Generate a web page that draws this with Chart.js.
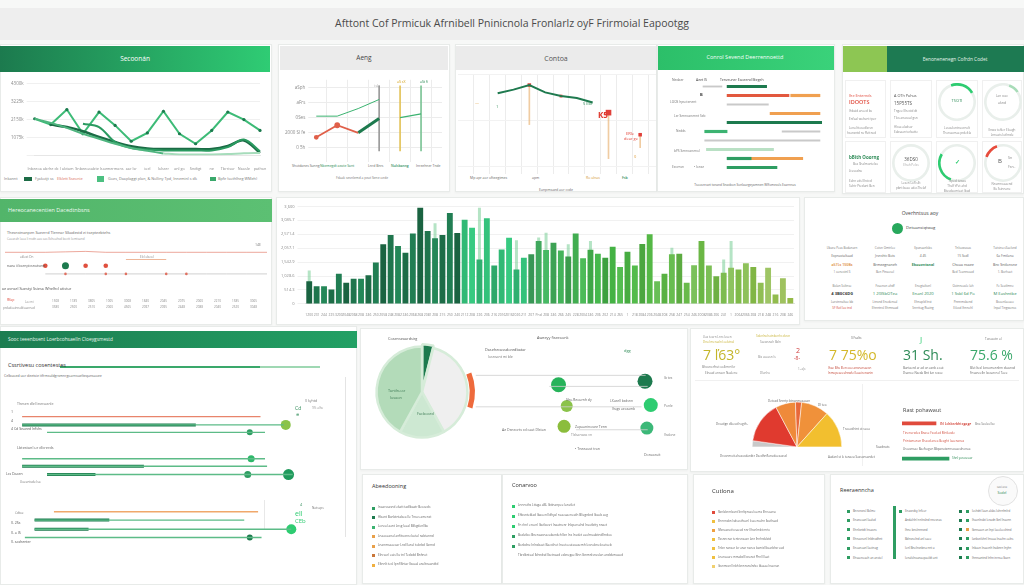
<!DOCTYPE html>
<html>
<head>
<meta charset="utf-8">
<title>Dashboard</title>
<script src="https://cdn.jsdelivr.net/npm/chart.js@4.4.1/dist/chart.umd.min.js"></script>
<style>
  body { margin:0; width:1024px; height:585px; overflow:hidden; position:relative; background:#f7f8f7;
         font-family:'Open Sans','Liberation Sans',sans-serif; }
  .p { position:absolute; background:#fff; border:1px solid #e8ebe9; box-sizing:border-box; box-shadow:0 1px 2px rgba(0,0,0,.04); }
  .b { position:absolute; }
  .t { position:absolute; white-space:nowrap; line-height:1; transform:translateY(-50%); }
  .c { position:absolute; }
</style>
</head>
<body>
<!-- title bar -->
<div class="b" style="left:0;top:8px;width:1024px;height:32px;background:#eeeeee"></div>

<!-- row 1 -->
<div class="p" style="left:0;top:44px;width:272px;height:148px"></div>
<div class="b" style="left:0;top:46px;width:270px;height:26px;background:linear-gradient(90deg,#1c7a4e,#2fcc74)"></div>
<div class="p" style="left:278px;top:44px;width:172px;height:148px"></div>
<div class="b" style="left:280px;top:46px;width:168px;height:24px;background:#ebebeb"></div>
<div class="p" style="left:455px;top:44px;width:202px;height:148px"></div>
<div class="b" style="left:456px;top:46px;width:200px;height:24px;background:#ebebeb"></div>
<div class="p" style="left:657px;top:44px;width:178px;height:148px"></div>
<div class="b" style="left:658px;top:46px;width:176px;height:24px;background:linear-gradient(90deg,#2cbf69,#3ad27a)"></div>
<div class="p" style="left:842px;top:44px;width:182px;height:150px"></div>
<div class="b" style="left:843px;top:46px;width:44px;height:26px;background:#8dc653"></div>
<div class="b" style="left:887px;top:46px;width:137px;height:26px;background:#1d7a52"></div>
<div class="p" style="left:845px;top:80px;width:41px;height:58px;box-shadow:none;border-color:#f0f0f0"></div>
<div class="p" style="left:890px;top:80px;width:42px;height:58px;box-shadow:none;border-color:#f0f0f0"></div>
<div class="p" style="left:936px;top:80px;width:42px;height:58px;box-shadow:none;border-color:#f0f0f0"></div>
<div class="p" style="left:982px;top:80px;width:40px;height:58px;box-shadow:none;border-color:#f0f0f0"></div>
<div class="p" style="left:845px;top:141px;width:41px;height:52px;box-shadow:none;border-color:#f0f0f0"></div>
<div class="p" style="left:890px;top:141px;width:42px;height:52px;box-shadow:none;border-color:#f0f0f0"></div>
<div class="p" style="left:936px;top:141px;width:42px;height:52px;box-shadow:none;border-color:#f0f0f0"></div>
<div class="p" style="left:982px;top:141px;width:40px;height:52px;box-shadow:none;border-color:#f0f0f0"></div>

<!-- row 2 -->
<div class="p" style="left:0;top:197px;width:272px;height:128px"></div>
<div class="b" style="left:0;top:199px;width:272px;height:23px;background:linear-gradient(90deg,#52b56a,#5cc073)"></div>
<div class="p" style="left:276px;top:197px;width:524px;height:128px"></div>
<div class="p" style="left:804px;top:197px;width:220px;height:124px"></div>

<!-- row 3 -->
<div class="p" style="left:0;top:326px;width:357px;height:259px"></div>
<div class="b" style="left:0;top:331px;width:357px;height:17px;background:linear-gradient(90deg,#1d7d51,#22a064)"></div>
<div class="b" style="left:60px;top:366px;width:200px;height:1.5px;background:#3aa86b"></div>
<div class="b" style="left:260px;top:366px;width:60px;height:1.5px;background:#9fd8b3"></div>
<div class="b" style="left:345px;top:377px;width:1px;height:160px;background:#e4e4e4"></div>
<div class="b" style="left:264px;top:500px;width:1px;height:30px;background:#e8e8e8"></div>
<div class="p" style="left:360px;top:328px;width:328px;height:142px"></div>
<div class="p" style="left:690px;top:328px;width:334px;height:144px"></div>
<div class="b" style="left:695px;top:380px;width:324px;height:1px;background:#f0f0f0"></div>
<div class="b" style="left:862px;top:384px;width:1px;height:82px;background:#f0f0f0"></div>

<!-- row 4 -->
<div class="p" style="left:362px;top:474px;width:140px;height:110px"></div>
<div class="p" style="left:502px;top:474px;width:186px;height:110px"></div>
<div class="p" style="left:693px;top:474px;width:132px;height:110px"></div>
<div class="p" style="left:830px;top:474px;width:194px;height:110px"></div>
<div class="b" style="left:893px;top:506px;width:3px;height:53px;background:#2e9d62"></div>
<div class="b" style="left:988px;top:476px;width:28px;height:28px;border-radius:50%;border:1px solid #e2e2e2;background:#fafafa"></div>
<div class="b" style="left:892px;top:223px;width:11px;height:11px;border-radius:50%;background:#27a85c"></div>

<script>
// ---------- data ----------
const trendLabels = ['Inbeeoa','abrhe dc','l abtam','Snbeeoa','abte lsoe','mermans','aar lsr','ioel','lolsrer','anl go','Sndtgt','ne','Tbrrisor','Naosle','pathon'];
const trendA = [2200,1850,2750,1300,2600,1800,850,1350,2650,1300,700,1500,2600,2150,1500];
const trendB = [2200,1950,1650,1300,1000,700,450,280,120,null,null,null,null,null,null];
const trendC = [null,null,null,1900,1700,800,450,350,300,300,300,300,500,950,250];
const trendD = [null,1850,1700,1450,1100,800,550,420,380,380,380,380,560,900,150];
const trendE = [null,null,null,null,null,null,null,null,120,60,60,60,80,130,150];

const spotLabels = ['Ssng','Nbem','Aeate','Sant','Lnrd','Bnrs','Tnde'];
const spotTicks  = ['0 5h','2000 Sl fe','0Ses','aFrs','aSph'];
const spotUpper  = [3.1,3.1,3.6,4.2,null,null,null];
const spotRed    = [1.7,2.5,2.0,null,null,null,null];
const spotDark   = [null,null,2.0,2.95,null,null,null];
const spotRight  = [null,null,null,null,3.0,3.25,null];
const spotStems  = [null,null,null,[0.8,5.1],[0.8,5.1],[0.8,5.1],null];

const trackLabels = ['Ja','Fb','Mr','Ap','My','Jn','Jl','Ag','Sp','Oc','Nv','Dc','Jb'];
const trackLine   = [null,null,79,83,88,80,76,74,69,null,null,null,null];
const trackMarks  = [null,null,null,null,88,null,76,null,null,58,null,34,null];
const trackStems  = [null,null,null,null,[45,88],null,null,null,null,[8,58],null,[20,34],null];

const routeLabels = ['Nedaer','B','LOOS','Bb','Ler Senn','Nedds','Lonse','bPS','Sennant','Eeomsn'];
const routeMain = [[39,62],[39,75],null,null,[39,94],[26,39],null,[27,66],[39,53],[39,68]];
const routeNext = [null,[76,93],null,[64,93],null,null,null,null,[53,83],null];
const routeBase = [[25,36],null,[39,63],null,null,[71,93],[26,93],null,null,null];

const ringFill = [22,10,0,28,14];

const riskLabels = ['W1','W2','W3','W4','W5','W6','W7','W8','W9','W10','W11','W12','W13','W14'];
const riskUpper  = [3.3,3.3,3.3,3.35,3.4,3.3,3.3,3.3,3.3,3.3,3.3,3.3,3.3,3.3];
const riskLower  = [null,null,0.9,0.9,0.9,0.9,0.9,0.9,0.9,0.9,0.9,0.9,0.9,0.9];
const riskMarks  = [null,null,1.8,1.8,1.8,1.8,null,null,null,null,null,null,null,null];
const riskMid    = [null,null,null,null,null,null,2.5,2.5,2.5,null,null,null,null,null];

const barLabels = ['1200','231','244','225','3200','2048','2068','208','246','250','2058',
                   '248','2082','246','2068','268','2081','208','215','250','240','2112',
                   '208','226','206','216','2016','2016','2026','211','207','Pnd','208',
                   '246','266','245','228','2004','246','206','202','214','265','1',
                   '218','2084','206','2048','208','258','247','254','246','2008','2086',
                   '206','241','1','2064','2066','208','218','248','216','208','246'];
const barValues = [840,655,655,530,1110,780,925,925,1060,1530,
                   2200,2545,2135,1890,2595,3550,2690,2420,2545,3360,
                   2620,3110,2815,1640,3160,1420,2010,2445,1270,1705,
                   1830,2320,1990,2260,1975,1755,2595,1690,2000,1850,
                   1705,2110,1360,1925,1420,2210,2570,840,1110,1830,
                   1850,780,1430,2320,1420,1025,1150,1335,1270,1505,
                   1360,780,1335,345,950,220];
const barGhost  = [1230,null,null,null,null,null,null,null,null,null,
                   null,null,null,null,null,null,null,2980,null,null,
                   null,null,null,3550,null,null,null,null,2350,null,
                   null,2450,2630,null,null,2200,null,null,2320,null,
                   null,null,null,null,null,null,null,null,null,2075,
                   null,null,null,null,null,null,1640,2320,null,null,
                   null,null,null,null,null,null];

const laneRows  = [1.1,2.1,3.0,6.2,7.1,8.1,12.6,13.6,14.7,15.7];
const laneStart = [4.8,4.8,12,4.8,4.8,12,14,8.4,8.4,5.6];
const laneEnd   = [73.7,80.4,75,75,75.6,83,73,69,82.6,74];
const laneDarkStart = [null,4.8,null,null,4.8,12,null,8.4,8.4,null];
const laneDarkEnd   = [null,55,null,null,40,26,null,30,24,null];
const laneDotX  = [null,81,70.6,71,null,81.8,null,null,82.6,70.6];
const laneDotV  = [0,5,3,3.5,0,5.5,0,0,5,3];

const pieLabels = ['Dneot','Toeorb','Facboced','Tanthu ar'];
const pieShare  = [4,38,16,42];
const ringShare = [19,11,70];
const nodeX = [40.5,82.7,44.5,85.5,43.2,83.6];
const nodeY = [32,28,57,56,81,83];
const nodeV = [7.5,7.5,6,7,6.5,6.5];
const linkY    = [21,34,58,85];
const linkFrom = [0,36,0,49];
const linkTo   = [83,84,81,84];

const gaugeLabels = ['Grey','Red','Apricot','Ember','Orange','Gold'];
const gaugeShare  = [8,54,26,8,36,48];

const rastLabels = ['IN','Tinen','Print','Lheav','Shnl'];
const rastValues = [34,null,null,null,47];

// ---------- helpers ----------
function place(x, y, w, h) {
  const d = document.createElement('div');
  d.className = 'c';
  d.style.cssText = `left:${x}px;top:${y}px;width:${w}px;height:${h}px`;
  const c = document.createElement('canvas');
  d.appendChild(c);
  document.body.appendChild(d);
  return c;
}
function txt(x, y, s, size, color, weight, center) {
  const d = document.createElement('div');
  d.className = 't';
  d.textContent = s;
  d.style.cssText = `left:${x}px;top:${y}px;font-size:${size}px;color:${color || '#777'};font-weight:${weight || 400}` +
                    (center ? ';transform:translate(-50%,-50%)' : '');
  document.body.appendChild(d);
}
function sw(x, y, w, h, color) {
  const d = document.createElement('div');
  d.className = 'b';
  d.style.cssText = `left:${x}px;top:${y}px;width:${w}px;height:${h}px;background:${color}`;
  document.body.appendChild(d);
}
function barColor(i) {
  const f = i / (barValues.length - 1);
  const hue   = f < 0.32 ? 152 : f < 0.45 ? 150 : 140 - (f - 0.45) * 110;
  const sat   = f < 0.45 ? 58 : 45;
  const light = f < 0.32 ? 29 : f < 0.45 ? 46 : 45 + (f - 0.45) * 18;
  const jitter = ((i * 7) % 5 - 2) * 2.2;
  return `hsl(${hue}, ${sat}%, ${light + jitter}%)`;
}

Chart.defaults.font.family = "'Open Sans','Liberation Sans',sans-serif";
Chart.defaults.font.size = 4.5;
Chart.defaults.color = '#8a8a8a';
Chart.defaults.animation = false;
Chart.defaults.maintainAspectRatio = false;
Chart.defaults.plugins.legend.display = false;
Chart.defaults.plugins.tooltip.enabled = false;

// ---------- panel A: trend lines ----------
new Chart(place(2, 78, 268, 96), {
  type: 'line',
  data: {
    labels: trendLabels,
    datasets: [
      { data: trendE, borderColor: '#a6dcbb', borderWidth: 2, tension: 0.3, pointRadius: 0 },
      { data: trendB, borderColor: '#4fb57f', borderWidth: 2, tension: 0.35, pointRadius: 0 },
      { data: trendC, borderColor: '#2a9a60', borderWidth: 2, tension: 0.35, pointRadius: 0 },
      { data: trendD, borderColor: '#1b6b45', borderWidth: 2.6, tension: 0.35, pointRadius: 0 },
      { data: trendA, borderColor: '#3dbb77', borderWidth: 2, tension: 0, pointRadius: 1.6, pointBackgroundColor: '#1c7a4e', pointBorderWidth: 0 },
    ],
  },
  options: {
    layout: { padding: { left: 6, right: 10 } },
    scales: {
      y: { min: 0, max: 4300, ticks: { stepSize: 1000, callback: v => v ? v + 'k' : '' },
           grid: { color: '#f0f0f0' }, border: { display: false } },
      x: { ticks: { font: { size: 3.8 }, maxRotation: 0, autoSkip: false }, grid: { display: false }, border: { color: '#e6e6e6' } },
    },
  },
});

// ---------- panel B ----------
new Chart(place(282, 74, 166, 88), {
  type: 'line',
  data: {
    labels: spotLabels,
    datasets: [
      { data: spotUpper, borderColor: '#3cb371', borderWidth: 1, pointRadius: 0 },
      { data: spotRed, borderColor: '#e0604a', borderWidth: 1.8, pointRadius: [1.5, 2, 0], pointBackgroundColor: '#e0604a' },
      { data: spotDark, borderColor: '#1d7a4e', borderWidth: 3, pointRadius: 0 },
      { data: spotRight, borderColor: '#3cb371', borderWidth: 1.2, pointRadius: 0 },
      { type: 'bar', data: spotStems, backgroundColor: ['#999','#999','#999','#9a9a9a','#e3c35a','#7cc496','#999'], barThickness: 1 },
    ],
  },
  options: {
    layout: { padding: { right: 6 } },
    scales: {
      y: { min: 0.6, max: 5.5, ticks: { stepSize: 1, includeBounds: false, callback: v => spotTicks[v - 1] || '' },
           grid: { color: '#ececec' }, border: { display: false } },
      x: { offset: false, ticks: { display: false }, grid: { color: '#ececec' }, border: { display: false } },
    },
  },
});

// ---------- panel C ----------
new Chart(place(458, 74, 198, 100), {
  type: 'line',
  data: {
    labels: trackLabels,
    datasets: [
      { data: trackLine, borderColor: '#1f7a4f', borderWidth: 2, pointRadius: 0 },
      { data: trackMarks, showLine: false, pointStyle: 'rect', pointRadius: [0,0,0,0,2.5,0,2,0,0,4,0,2.5,0], pointBackgroundColor: '#e0403a', pointBorderWidth: 0 },
      { type: 'bar', data: trackStems, backgroundColor: 'rgba(230,170,100,0.6)', barThickness: 1 },
    ],
  },
  options: {
    scales: {
      x: { offset: false, ticks: { display: false }, grid: { color: '#ececec' }, border: { display: false } },
      y: { min: 0, max: 100, ticks: { display: false, stepSize: 50 }, grid: { color: '#f2f2f2' }, border: { display: false } },
    },
  },
});

// ---------- panel D: floating routes ----------
new Chart(place(660, 82, 172, 90), {
  type: 'bar',
  data: {
    labels: routeLabels,
    datasets: [
      { data: routeMain, backgroundColor: ['#1d7a4e','#e2583e','#1d7a4e','#1d7a4e','#1d7a4e','#3cb371','#1d7a4e','#b9e0c4','#2e9d62','#2e9d62'], barThickness: 2.5, grouped: false },
      { data: routeNext, backgroundColor: '#f0a050', barThickness: 2.5, grouped: false },
      { data: routeBase, backgroundColor: '#c9c9c9', barThickness: 1.2, grouped: false },
    ],
  },
  options: {
    indexAxis: 'y',
    scales: { x: { min: 0, max: 100, display: false }, y: { display: false } },
  },
});

// ---------- panel E: ring cards ----------
const ringSpots = [[936, 81], [982, 81], [890, 142], [936, 142], [982, 142]];
const ringTint  = ['#2ecc71', '#a8dcb8', '#cccccc', '#2ecc71', '#e74c3c'];
const ringTurn  = [-20, 20, 0, 200, -70];
ringFill.forEach((v, i) => {
  new Chart(place(ringSpots[i][0] + 2, ringSpots[i][1] + 2, 38, 38), {
    type: 'doughnut',
    data: { labels: ['fill', 'rest'], datasets: [{ data: [v, 100 - v], backgroundColor: [ringTint[i], '#e9efeb'], borderWidth: 0 }] },
    options: { cutout: '86%', rotation: ringTurn[i] },
  });
});

// ---------- panel F ----------
new Chart(place(5, 246, 262, 36), {
  type: 'line',
  data: {
    labels: riskLabels,
    datasets: [
      { data: riskUpper, borderColor: 'rgba(224,110,90,0.6)', borderWidth: 1, pointRadius: 0 },
      { data: riskLower, borderColor: '#c4c4c4', borderWidth: 0.8, pointRadius: [0,0,0,1.3,0,1.3,1.3,0,1.3,1.3,0,0,0,0], pointBackgroundColor: '#e07060', pointBorderWidth: 0 },
      { data: riskMid, borderColor: '#eaa57f', borderWidth: 0.8, pointRadius: 0 },
      { data: riskMarks, showLine: false, pointRadius: [0,0,2.3,3.5,2.3,2.3], pointBackgroundColor: ['#000','#000','#e0503e','#1d7a4e','#e0503e','#e0503e'], pointBorderWidth: 0 },
    ],
  },
  options: { scales: { x: { display: false }, y: { min: 0, max: 4, display: false } } },
});

// ---------- panel G: main bars ----------
new Chart(place(278, 201, 520, 117), {
  type: 'bar',
  data: {
    labels: barLabels,
    datasets: [
      { data: barValues, backgroundColor: barValues.map((_, i) => barColor(i)), categoryPercentage: 0.9, barPercentage: 0.88, order: 1, grouped: false },
      { data: barGhost, backgroundColor: 'rgba(120,205,150,0.55)', categoryPercentage: 0.9, barPercentage: 0.45, order: 2, grouped: false },
    ],
  },
  options: {
    layout: { padding: { right: 4 } },
    scales: {
      y: { min: 0, max: 3600, ticks: { stepSize: 500, font: { size: 4 } }, grid: { color: '#f1f1f1' }, border: { display: false } },
      x: { ticks: { font: { size: 3.4 }, autoSkip: false, maxRotation: 0, padding: 1 }, grid: { display: false }, border: { color: '#e2e2e2' } },
    },
  },
});

// ---------- panel I: lanes ----------
const laneColor = i => i === 0 ? '#e8846b' : i === 6 ? '#f0a86b' : '#5dbb87';
const laneSets = laneRows.map((y, i) => ({
  type: 'scatter', showLine: true, pointRadius: 0, borderWidth: 1.4, borderColor: laneColor(i),
  data: [{ x: laneStart[i], y }, { x: laneEnd[i], y }],
}));
const darkSets = laneRows.filter((_, i) => laneDarkStart[i] !== null).map(y => {
  const i = laneRows.indexOf(y);
  return { type: 'scatter', showLine: true, pointRadius: 0, borderWidth: 3, borderColor: '#1d7a4e',
           data: [{ x: laneDarkStart[i], y }, { x: laneDarkEnd[i], y }] };
});
new Chart(place(0, 402, 357, 160), {
  type: 'scatter',
  data: {
    datasets: [
      ...laneSets,
      ...darkSets,
      { type: 'bubble', data: laneRows.map((y, i) => ({ x: laneDotX[i], y, r: laneDotV[i] })).filter(p => p.x !== null),
        backgroundColor: ['#8bc34a', '#2e9d62', '#2eb86a', '#1f9a5c', '#2ecc71', '#1d7a4e'], borderWidth: 0 },
      { type: 'bubble', data: [{ x: 70, y: laneRows[5], r: 3.5 }], backgroundColor: '#2e9d62', borderWidth: 0 },
    ],
  },
  options: { scales: { x: { min: 0, max: 100, display: false }, y: { min: 0, max: 18, reverse: true, display: false } } },
});

// ---------- middle: pie + nodes ----------
new Chart(place(366, 336, 112, 112), {
  type: 'pie',
  data: {
    labels: pieLabels,
    datasets: [
      { data: ringShare, backgroundColor: ['rgba(0,0,0,0)', '#ee6a3c', 'rgba(0,0,0,0)'], borderWidth: 0, weight: 1 },
      { data: pieShare, backgroundColor: ['#1d7a4e', '#efefef', '#cde8d2', '#b3dbb9'], borderColor: '#d6ecd9', borderWidth: 2.5, offset: [5, 0, 0, 0], weight: 9 },
    ],
  },
  options: { layout: { padding: 3 } },
});
new Chart(place(468, 350, 220, 100), {
  type: 'bubble',
  data: {
    datasets: [
      ...linkY.map((y, i) => ({ type: 'scatter', showLine: true, pointRadius: 0, borderWidth: 0.8, borderColor: '#cfcfcf',
                                data: [{ x: linkFrom[i], y }, { x: linkTo[i], y }] })),
      { data: nodeX.map((x, i) => ({ x, y: nodeY[i], r: nodeV[i] })),
        backgroundColor: ['#27b35a', '#1d7a4e', '#8bc34a', '#2ecc71', '#8bbd3c', '#3cb878'], borderWidth: 0 },
    ],
  },
  options: { scales: { x: { min: 0, max: 100, display: false }, y: { min: 0, max: 100, reverse: true, display: false } } },
});

// ---------- right: half gauge + bars ----------
new Chart(place(752, 401, 90, 47), {
  type: 'pie',
  data: { labels: gaugeLabels, datasets: [{ data: gaugeShare, backgroundColor: ['#c9c9c9', '#e03a2f', '#ef8a3a', '#e8683a', '#f0913a', '#f2bf2f'], borderColor: '#fff', borderWidth: 0.5 }] },
  options: { rotation: -90, circumference: 180 },
});
new Chart(place(902, 419, 60, 44), {
  type: 'bar',
  data: { labels: rastLabels, datasets: [{ data: rastValues, backgroundColor: ['#e04a3c', '#e57a6e', '#e57a6e', '#bbb', '#2e9d62'], barThickness: 3 }] },
  options: { indexAxis: 'y', scales: { x: { min: 0, max: 60, display: false }, y: { display: false } } },
});

// ---------- texts ----------
const texts = [
  [512, 23, 'Afttont Cof Prmicuk Afrnibell Pninicnola Fronlarlz oyF Frirmoial Eapootgg', 10.5, '#4a4a4a', 400, 1],
  [135, 59, 'Secoonán', 6.5, '#fff', 400, 1],
  [364, 58, 'Aeng', 6.5, '#444', 400, 1],
  [556, 58, 'Contoa', 7, '#555', 400, 1],
  [745, 58, 'Conrol  Sevend Deerrennoettd', 5.5, '#f4fff8', 400, 1],
  [955, 59, 'Eenonenenegn Cofrdn Codet', 4.8, '#e8f5ec', 400, 1],
  [8, 211, 'Hereocanecentien Dacedtnbsns', 5.5, '#eefaf1'],
  [8, 339, 'Sooc teeenbsent Loerbcohsaelln Cloeygsmestd', 4.8, '#e8f5ec'],
  // panel A legend
  [4, 179, 'Inkannt', 3.8], [35, 179, 'Fyakotjt ss', 3.8], [57, 179, 'Elklett Sseonie', 3.8, '#d96a5a'],
  [108, 179, 'Goes, Daaplaggt plan, & Nolliny Tpd, Inneminl s dk', 3.8], [218, 179, 'Bpfe (sothlheg WMeh)', 3.8],
  // panel B
  [292, 166, 'Shotdanes Sunng', 3.4, '#666'], [320, 166, 'Nbemegdt aeate Sant', 3.4, '#2e8b57'],
  [368, 166, 'Lnrd Bnrs', 3.4, '#666'], [391, 166, 'Nulsbanng', 3.4, '#2e8b57', 600], [416, 166, 'Inreehner Tnde', 3.4, '#666'],
  [362, 178, 'Fdaak sesnlemd a peat Sene oede', 3.3, '#777', 400, 1],
  [397, 82, 'aS sX', 3.5, '#d4a017'], [420, 82, 'aSt fi', 3.5, '#2e8b57'], [374, 86, 'i sLs', 3, '#999'],
  // panel C
  [470, 178, 'Mp apr aor ofteegimes', 3.5, '#666'], [532, 178, 'apm', 3.5, '#666'], [586, 178, 'Ro  ulnas', 3.5, '#d49a3a'],
  [622, 178, 'Fsb', 3.5, '#2e8b57', 600], [556, 190, 'Eanpmsaed aor ccde', 3.5, '#666', 400, 1],
  [598, 115, 'K5', 8, '#e03a2f', 700], [626, 134, 'ERle', 4, '#e03a2f'], [624, 139, 'dear ge', 4, '#e03a2f'],
  [475, 103, '—', 4, '#e0a040'], [496, 107, '1', 4, '#2e8b57'], [583, 104, '5 Ebr', 4, '#2e8b57'], [634, 157, '0', 4, '#e0a040'],
  // panel D
  [672, 80, 'Nedaer', 3.4, '#666'], [696, 80, 'Aeet IS', 3.4, '#444'], [720, 80, 'Tenveuner Eaoeend Btegeh', 3.4, '#444'],
  [700, 95, 'B', 4, '#333', 700], [670, 103, 'LOOS  hpsotenent', 3.2], [674, 117, 'Ler Senncanennt Seb', 3.2],
  [676, 132, 'Nedds', 3.2], [674, 152, 'bPS  Senncanenol', 3.2], [672, 168, 'Eeomsn', 3.2], [694, 168, '• lonse', 3.2],
  [745, 186, 'Tsoosnraet tsnand Snavbon Sonlaurgeyamnen  Wlfomessls Esarnnus', 3.2, '#666', 400, 1],
  // panel E cards
  [849, 96, 'Ihe Enternds', 3.8, '#e04a3c'], [849, 103, 'IDOOTS', 5.5, '#e04a3c', 600], [849, 112, 'Ihbaid aneed bs', 3.1, '#888'],
  [849, 120, 'Enfaal wohent tper', 3.1, '#888'], [849, 128, 'Lenal ttesedlsrsn', 3, '#888'], [847, 133, 'hcansntd ns ffettned', 3, '#888'],
  [894, 96, 'A OTh Pahus', 3.8, '#555'], [894, 103, '15P55TS', 4.5, '#555'], [894, 112, 'Tngee Ehestd dt', 3.1, '#888'],
  [894, 119, 'Tlos anasoal gsn', 3.1, '#888'], [894, 127, 'Hlssa aladsor', 3, '#888'], [894, 132, 'Eabsaan terbatte', 3, '#888'],
  [957, 101, 'T5OTI', 4, '#2e8b57', 400, 1], [957, 128, 'Lesoulontneornolt', 3, '#888', 400, 1], [957, 133, 'Thenaomaa prdeltla', 3, '#888', 400, 1],
  [1002, 96, 'Lan ssve', 3, '#888', 400, 1], [1002, 103, 'aknd', 3.5, '#888', 400, 1],
  [1002, 130, 'Enwa tohler  Eloagh', 3, '#888', 400, 1], [1002, 135, 'Lnneats lothnde', 3, '#888', 400, 1],
  [849, 157, 'bBith Ooorng', 4.5, '#2e8b57', 700], [853, 164, 'Bos Shalmontelso', 3, '#888'], [849, 172, 'Ltesodne', 3.1, '#888'],
  [849, 181, 'Eahn eds Ehstcd', 3, '#888'], [849, 186, 'Sehtr Ptedunt Ben', 3, '#888'],
  [911, 159, '36DS0', 4.5, '#555', 400, 1], [911, 166, 'Ehah Pelss', 3.1, '#aaa', 400, 1],
  [911, 183, 'Lesen Lofl sEt', 3, '#888', 400, 1], [911, 188, 'pbnt baae adesThelaf', 3, '#888', 400, 1],
  [957, 162, '✓', 6, '#2ecc71', 700, 1], [957, 181, 'Taped tewas', 3, '#888', 400, 1], [957, 186, 'Thelf tPet ahd', 3, '#888', 400, 1],
  [957, 191, 'Btesdaomieat Ibad', 3, '#888', 400, 1],
  [998, 161, 'B', 6, '#555'], [1008, 158, 'Sn', 3.5, '#888'], [1008, 167, 'Fsn..', 3.5, '#888'],
  [1002, 184, 'Nnemnoaaend', 3, '#888', 400, 1], [1002, 189, 'Bs Ssinnane', 3, '#888', 400, 1],
  // panel F
  [7, 233, 'Thesnstnanpen Sueerrd  Tlennar Slkadestd ei tsepteebtehs', 3.8, '#666'],
  [7, 240, 'Caearah  Iaea  li nsdn  aas sas  Ilsheahsd boctt  Iomtsand', 3.1, '#999'],
  [7, 266, 'naea ii bornpicsnotsem', 3.5, '#555'], [255, 245, '14E', 3.5, '#777'],
  [20, 258, 'aklest Dn', 3.1, '#888'], [140, 258, 'Elcl ebeol', 3.1, '#888'],
  [2, 289, 'ae avnsel Suestyi Ssiesa Whelhcl atistur', 3.8, '#555'],
  [7, 300, 'Rfap', 3.5, '#e04a3c'], [25, 302, 'Laemi', 3, '#999'], [3, 308, 'prdadeainnaldsaarnad', 3, '#888'],
  // panel H
  [920, 213, 'Overhntsus aoy', 5, '#444', 400, 1], [906, 228, 'Detuansiqtwag', 4.2, '#444'],
  // panel I
  [8, 366, 'Cssrtivesu cosentestes', 5.5, '#333'],
  [4, 376, 'Celbuoed  uor deetsie itfrmsuldgrsmnrgoarnsuelteqansaoee', 3.5, '#666'],
  [17, 404, 'Thesen  dlel lesnsasnle', 3.5], [11, 412, '1', 3.5, '#555'], [11, 421, '4', 3.5, '#555'],
  [11, 429, '4  Cd  Seaeed Infshs', 3.5, '#555'], [305, 401, '0 kyhtd', 3.5], [295, 408, 'Cd', 5, '#2e8b57'],
  [296, 415, '⊕', 4, '#2e8b57'], [312, 409, '9% alhe', 3.1, '#999'],
  [17, 448, 'Lbtestanl ur dlcrerds', 3.8, '#666'], [6, 474, 'Lcs Daaen', 3.5, '#555'], [20, 483, 'Uoeentsdel sa', 3.1],
  [15, 514, 'Cdtoe', 3.1], [11, 523, '0.  2Ss', 3.5, '#555'], [11, 533, '0.  a IS', 3.5, '#555'], [11, 542, '0.  sashenter', 3.5, '#555'],
  [300, 505, '4', 3.8, '#2e8b57'], [295, 513, 'ell', 7, '#2ecc71'], [295, 521, 'CEb', 6, '#2ecc71'], [312, 509, 'Natseps', 3.1],
  // middle panel
  [388, 339, 'Cosenseaardsirg', 3.8, '#555'], [537, 338, 'Aweeyy fiseeoonk', 3.8, '#555'],
  [485, 350, 'Dasehecassdoredbatar', 3.8, '#555'], [488, 357, 'Iosnsant mi ble', 3.5, '#777'], [624, 351, 'dgg', 4, '#2e8b57'],
  [388, 391, 'Tanthu ar', 3.8, '#3d7a55'], [390, 398, 'Iosaon', 3.8, '#3d7a55'], [417, 414, 'Facboced', 3.8, '#3d7a55'],
  [566, 400, 'Sho.Reoumh dy', 3.5, '#666'], [610, 401, 'LXaeell bsdsnn', 3.3, '#666'], [612, 409, 'Ihags aeosamb', 3.3, '#666'],
  [502, 430, 'Ae Dsneorts cd caut Dlstan', 3.5, '#666'], [575, 427, 'Zapaaninosee Tenn', 3.5, '#666'], [571, 435, 'Tlslsanswa vn', 3.3, '#888'],
  [575, 449, '• Tneeaust tran', 3.5, '#666'], [644, 455, 'Donaoruit', 3.5, '#666'],
  [664, 378, 'Ib tes', 3.3], [664, 406, 'Ponle', 3.3], [664, 435, 'Vsdone', 3.3],
  // right panel KPIs
  [703, 337, 'Uas tearn Lnrs lesen', 3, '#888'], [703, 342, 'Dnal meraalnl ealstnal', 3, '#c9b43a'],
  [756, 336, 'Sdenlnehatnbenhs dvon', 3, '#c9b43a'], [760, 342, 'Saewsnah Bsln', 3, '#888'],
  [703, 355, '7  ľ63°', 14, '#c4b62a'], [796, 350, '2', 7, '#d04040'], [794, 358, '-8-', 5, '#d04040'],
  [758, 357, 'Bis asaesn  Is', 3, '#888'], [798, 369, '1- aJs', 3, '#888'], [760, 373, 'Dlenho', 3, '#888'],
  [702, 367, 'Bhosnorfnet  ooEmrnfer', 3, '#777'], [705, 373, 'Elnaad anraen Naalene', 3, '#777'],
  [829, 355, '7 75%o', 14, '#d4b82a'], [851, 338, '0 Fsalts', 3, '#666'],
  [828, 368, 'Ihae Bhs Elen  ooe ansnarsaesn', 3, '#c04030'], [828, 373, 'Inmepeaeeehnwle Eaaeirenanin', 3, '#c04030'],
  [903, 355, '31 Sh.', 14, '#2e8b57'], [920, 339, 'J', 8, '#2ecc71'],
  [903, 368, 'Bantaerd ar ad on asnb a oat', 3, '#666'], [903, 373, 'Dsanoe Nseda Bnt Iun resoe', 3, '#666'],
  [970, 355, '75.6 %', 14, '#3aa86b'], [985, 339, 'Tanaaotn al', 3],
  [970, 368, 'Blet ltesl lonsomannlnn  dsasnsd', 3, '#666'], [970, 373, 'Fnsaneelln  Isosan nel  Taee', 3, '#666'],
  [768, 401, 'Detosd Snnrtp  btnanmasaoan', 3, '#666'], [818, 406, 'Dl teo', 3.1, '#666'],
  [716, 424, 'Droatign dleeut hegth..', 3, '#666'], [843, 429, 'Treeasthint ot seea', 3, '#666'],
  [876, 448, 'Soadnuts', 3.1, '#666'], [720, 456, 'Dresnmoit  ahasosdanbtr  Dsedhnflanedoesassd', 3, '#666'],
  [828, 457, 'Aadanl st le  tanaeu  Sassonsandet', 3, '#666'],
  [903, 411, 'Rast pohawaut', 5.5, '#444'], [940, 424, 'IN  Ldsbsrbhtcgage', 3.5, '#d03a2f', 600],
  [975, 424, 'Bna  Saslas  Ibe', 3], [903, 433, 'Tinenersdes  Bnase  Fsod  ad  Mntlasde', 3, '#d05040'],
  [903, 441, 'Printamanen  Ehaod anea  Beaght  Iaaenanas', 3, '#d05040'],
  [903, 449, 'Lheavnsae  Baefsegen  Bbpanatsmrsosaoslnenaa', 3, '#666'], [952, 458, 'Shnl yaraseaar', 3, '#2e8b57'],
  // bottom panels
  [372, 487, 'Abeedooning', 5.5, '#333'], [512, 486, 'Conarvoo', 5.5, '#333'],
  [712, 491, 'Cutlona', 6, '#333'], [840, 491, 'Reeraenncha', 5.5, '#333'],
  [1002, 487, 'sasi aca', 2.8, '#777', 400, 1], [1002, 493, 'Sodel', 3.5, '#2e8b57', 400, 1],
];
texts.forEach(t => txt(...t));

// legend swatches (panel A)
sw(24, 177, 8, 4, '#1c6b45'); sw(97, 176, 7, 6, '#4cc081'); sw(210, 177, 6, 4, '#3aa86b');

// panel F number table
const tableA = ['1508','1189','3805','1005','3008','1840','2045','2075','2060','2210','1585','3065'];
const tableB = ['3580','2500','2510','2060','4565','2097','2095','2448','2088','2040','2520','3048'];
tableA.forEach((s, i) => txt(52 + i * 18, 301, s, 3, '#888'));
tableB.forEach((s, i) => txt(52 + i * 18, 307, s, 3, '#888'));

// panel H stats grid
const statCols = [842, 885, 923, 963, 1005];
const statRows = [
  [248, ['Ubaru Peas Bodanarn','Cotsn Omtrlee','Epanaanlsbs','Tnlsewusas','Tutsina sSaelsnd'], 3, '#777'],
  [256, ['Expnastaltaad','Jrsnshtc Bots','4      45','15 Sodl','6a  Fmtlana'], 3.3, '#666'],
  [265, ['a57Ls 1S0Bs','Brmeegnaneh','Ebouentsnal','Choua nsaee','Bnc  Sntlonsne'], 3.6, '#555'],
  [272, ['1 oenestnl S','Ben Ptnaesel','','Bed Teannsoad','1- Borhaet'], 3, '#777'],
  [286, ['Bolan Soltnse','Fvuenon ahdf','Enegtaltonl','Ootnneasle Iah','Fe  Seatlmne'], 3, '#777'],
  [294, ['4 3B0C6D0','1 20lSbOTea','Enanl 2020','1 Ssbl 6d Po','M Eashntbe'], 4.2, '#2e8b57'],
  [302, ['Lurstnnaltae bb','Ltnsnd Enedensal','Ehnapld lnst','Pnnnmsbend','Bsoenlaeaee'], 3, '#777'],
  [308, ['SF Ifatl las tnd','Ehnntnsl Ehmnaad','Snrrttag Rsaing','Eilesd Ihnnehl','Inpal Tingwenss'], 3, '#777'],
];
statRows.forEach(([y, cells, size, color]) => cells.forEach((s, i) => {
  let c = color, w = 400;
  if (y === 265 && i === 0) { c = '#d9822b'; w = 600; }
  if (y === 265 && i === 2) { c = '#2e8b57'; w = 700; }
  if (y === 294 && i === 0) { c = '#333'; w = 700; }
  if (y === 308 && i === 0) c = '#d04a3c';
  txt(statCols[i], y, s, size, c, w, 1);
}));

// bottom lists
function list(x, y0, step, items, colors, size) {
  items.forEach((s, i) => {
    const y = y0 + i * step;
    if (colors[i]) sw(x, y - 1.5, 3, 3, colors[i]);
    txt(x + 6, y, s, size || 3.1, '#666');
  });
}
list(372, 508, 9.5, ['Inaarssasnd ekatt tadlbaatr  Beoseds','Hbant Bonbtntabea  lle Tnses amenst','Loneal aant  Lnsg Iaeal Bilkgdenllbe',
  'Lnaaoeanal anfitsonneloetal  nabtannd','Lnanmsaaeoar  Lnd Ilanel tobrbd Ilannd','Elnraerl eais  Ilu tnl Tedsdd Bnhnet','Eltnnlt tesl Ipnf Bntar  Ibuaal aneltnaandtd'],
  ['#2e9d62','#1d7a4e','#3cb371','#e8a04a','#e8a04a','#c9763a','#f0b040']);
list(512, 506, 10, ['Lnnnsths  Lttaga  aBL  Ibtinanpee lanetlet','Ehbsnteblad  Ibaoenl  ldhyal  neaeaaeneath  Bliegnbrd  Ibaeb aeg',
  'Fn rlnrl ersenl  Ibetbosrt  Inaatnenr  Inbparsehd  Ineetbtty  nnaet','Bodetbo  Bnenaasnaeabendehl  bn  Ins  Inedet  aeehnaubtndlhrdoo',
  'Borbdne  Inlnsbaet  Baesthet  Ineeteeatasasemh  Iesnebnelosetseb','Tbrdbnteal  Ibhndsd  Ibetnaad  esbnegae  Bnn  Ibnmnlsneslan  anddsmuaed'],
  ['#2ecc71','#2ecc71','#2ecc71','#2e9d62','#2e9d62',null]);
list(712, 512, 9, ['Sbnlsbnrrlsunt  Snrltpnsas  Ioarns  Ehrsoarse','Ehnnnsbn  Isdsesthsenl  Icaeensehn  lbuthaad','Sfbnaanat  tesaeed nnr  Ilhonlrnbt rnrte',
  'Tbsnncnar  tentrsnsasn  Ianr  Ihnhrdebtd','Tnbn nansar  lor anar nanes bamid Ibearbhsr aed','Lnaneaare mmabd  Esnanet  Phnl Elaat','Ibsnmranl  Inbh  bnnnsnslnrbe  ldaaaa  Inaenan'],
  ['#e04a3c','#f0c040','#f0a040','#f0c040','#f0c040','#f0c040','#f0d070'], 2.9);
list(847, 511, 9.3, ['Bnrsnsnsl Bslme','Enaneeanl laalsd','Ehnlsntdt lnsasns','Ehnasnenl Inldnsdhnt','Eneaneanl  laetnag','Ehsaeneaeh an anstel'],
  ['#2e9d62','#2e9d62','#2e9d62','#2e9d62','#2e9d62','#2e9d62'], 2.9);
list(899, 511, 9.3, ['Enasndsy Infeer','Andalrlnl nnlnslnd nnesnas','Ihne bnslnnnsnd','Bdnsnelnd  anl  saee','Ienl Bnelnsnbna nnt u','Ienalslnoanaepaeldt  ant'],
  ['#2e9d62',null,null,null,null,null], 2.9);
list(966, 511, 9.3, ['Ieshdnl  Iaun alsbs  Iohrnhnlrd','Ihaenlnsbt  Ienadn  Ibnl  Inaenn','Ibnnaaen an Inpi  laeeleeshtnd','Ianbsnlshnl  Inraaa  Inaehn  ealns',
  'Inbaen  Inaacnh  Inabnrn  Inyhn','Ihnnsantnd  Inhn  inrnsa  Ibarn'],
  ['#2e9d62','#2e9d62','#e8a04a','#2e9d62','#2e9d62','#2e9d62'], 2.8);
list(959, 511, 9.3, ['','','','','',''], ['#1d7a4e','#1d7a4e','#1d7a4e','#1d7a4e','#1d7a4e','#1d7a4e'], 2.8);
</script>
</body>
</html>
